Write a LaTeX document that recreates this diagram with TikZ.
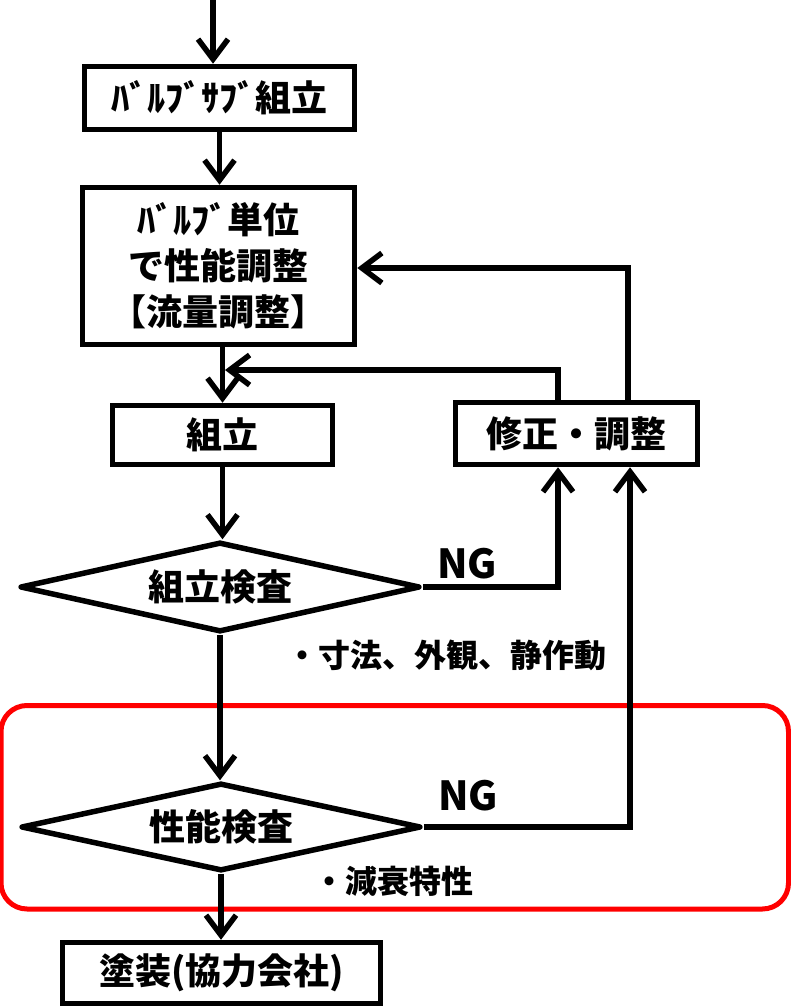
\documentclass[tikz,border=0pt]{standalone}
\usepackage{fontspec}
\setmainfont{Noto Sans CJK JP}
\usetikzlibrary{arrows.meta,shapes.geometric}
\newcommand\jpbig{\bfseries\fontsize{36}{46}\selectfont}
\newcommand\jpnote{\bfseries\fontsize{32}{40}\selectfont}
\newcommand\jpng{\bfseries\fontsize{40}{48}\selectfont}
\tikzset{
  box/.style={draw, line width=5.5pt, rectangle, inner sep=0pt, align=center, font=\jpbig},
  dia/.style={draw, line width=5.5pt, diamond, line join=round, inner sep=0pt, shape aspect=4.3, font=\jpbig},
  flow/.style={line width=5.5pt, -{Straight Barb[length=20pt,width=30pt]}},
  note/.style={inner sep=0pt, font=\jpnote},
  nglabel/.style={inner sep=0pt, font=\jpng},
  frame/.style={draw=red, line width=5pt, rounded corners=26pt}
}
\begin{document}
\begin{tikzpicture}[x=1pt,y=-1pt]
\useasboundingbox (0,0) rectangle (790,1006);
% red highlight frame
\draw[frame] (1,705.5) rectangle (788.5,909);
% nodes
\node[box, minimum width=270pt, minimum height=63pt] (b1) at (219.5,98) {ﾊﾞﾙﾌﾞｻﾌﾞ組立};
\node[box, minimum width=272pt, minimum height=157pt] (b2) at (218.5,266) {ﾊﾞﾙﾌﾞ単位\\で性能調整\\【流量調整】};
\node[box, minimum width=220pt, minimum height=59pt] (k1) at (222.5,435) {組立};
\node[box, minimum width=242pt, minimum height=62pt] (s) at (576.5,433.5) {修正・調整};
\node[dia, minimum width=400pt, minimum height=90pt] (d1) at (220,587) {組立検査};
\node[dia, minimum width=400pt, minimum height=88pt] (d2) at (221,827) {性能検査};
\node[box, minimum width=318pt, minimum height=61pt] (p) at (221.5,973) {塗装(協力会社)};
% labels
\node[nglabel] (ng1) at (467,564) {NG};
\node[nglabel] (ng2) at (468,796) {NG};
\node[note] (a1) at (446,655) {・寸法、外観、静作動};
\node[note] (a2) at (393,881) {・減衰特性};
% coordinates
\coordinate (start) at (213,0);
\coordinate (f1) at (558,370);
\coordinate (f1e) at (225,370);
\coordinate (f2) at (628,268);
\coordinate (n1) at (558,588);
\coordinate (n2) at (630,827);
% connectors
\draw[flow] (start) -- (start |- b1.north);
\draw[flow] (b1.south) -- (b1.south |- b2.north);
\draw[flow] (k1.north |- b2.south) -- (k1.north);
\draw[flow] (s.north -| f1) -- (f1) -- (f1e);
\draw[flow] (s.north -| f2) -- (f2) -- (f2 -| b2.east);
\draw[flow] (k1.south) -- (k1.south |- d1.north);
\draw[flow] (d1.east) -- (d1.east -| n1) -- (s.south -| n1);
\draw[flow] (d1.south) -- (d1.south |- d2.north);
\draw[flow] (d2.east) -- (d2.east -| n2) -- (s.south -| n2);
\draw[flow] (d2.south) -- (d2.south |- p.north);
\end{tikzpicture}
\end{document}
